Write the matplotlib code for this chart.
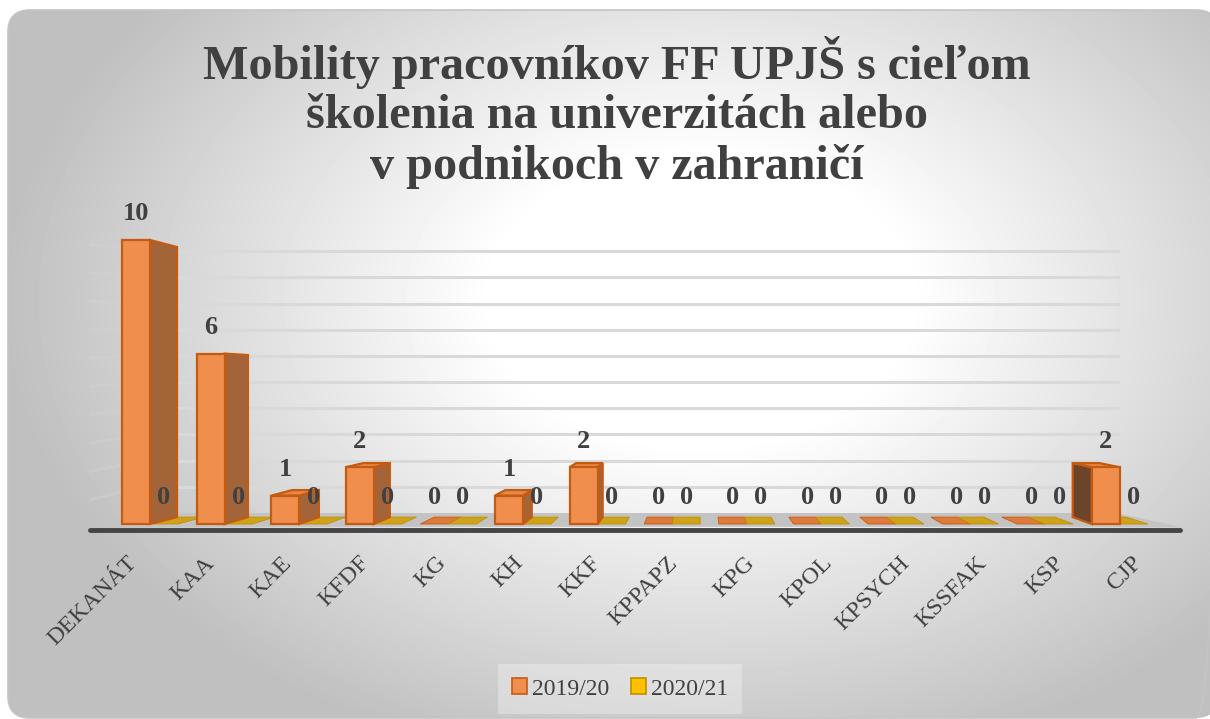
import numpy as np
import matplotlib
matplotlib.use('Agg')
import matplotlib.pyplot as plt
from matplotlib.patches import Polygon, FancyBboxPatch, Patch

plt.rcParams['font.family'] = ['Liberation Serif', 'DejaVu Serif']

# data
categories = ['DEKANÁT', 'KAA', 'KAE', 'KFDF', 'KG', 'KH', 'KKF', 'KPPAPZ',
              'KPG', 'KPOL', 'KPSYCH', 'KSSFAK', 'KSP', 'CJP']
vals_1920 = [10, 6, 1, 2, 0, 1, 2, 0, 0, 0, 0, 0, 0, 2]
vals_2021 = [0, 0, 0, 0, 0, 0, 0, 0, 0, 0, 0, 0, 0, 0]
series_names = ['2019/20', '2020/21']
y_max = 10
title = 'Mobility pracovníkov FF UPJŠ s cieľom\nškolenia na univerzitách alebo\nv podnikoch v zahraničí'

# look
W, H = 1210, 719
TXT = '#404040'
front_col = ['#F08E4E', '#FFC000']
edge_col = ['#C55A11', '#BF9000']
flat_col = ['#DC7B3C', '#CFA21C']
side_left = '#A3643A'    # right face of bars left of centre
side_right = '#6B4429'   # left face of bars right of centre
bar_w = 0.375

# pseudo 3d view: vanishing point in data units, depth scale of bars / back wall
VX, VY = 7.39, 4.96
S_BAR, S_WALL = 0.951, 0.922


def back(x, y, s):
    return VX + (x - VX) * s, VY + (y - VY) * s


fig = plt.figure(figsize=(W / 100, H / 100), dpi=100)

# background panel with radial gradient
bg = fig.add_axes([0, 0, 1, 1], zorder=0)
bg.set_xlim(0, W)
bg.set_ylim(H, 0)
bg.axis('off')
yy, xx = np.mgrid[0:H, 0:W]
r = np.hypot((xx - 700) / 700, (yy - 300) / 480)
shade = 1 - 0.25 * np.clip((r - 0.3) / 0.7, 0, 1)
panel = FancyBboxPatch((8, 10), 1210, 708, boxstyle='round,pad=0,rounding_size=22',
                       fc='none', ec='#c4c4c4', lw=1.2, zorder=2)
bg.add_patch(panel)
img = bg.imshow(shade, cmap='gray', vmin=0, vmax=1, extent=(0, W, H, 0), zorder=1)
img.set_clip_path(panel)

# chart axes, 1 unit x = one category, 1 unit y = one mobility
ax = fig.add_axes([0, 0, 1, 1], zorder=1)
ax.patch.set_alpha(0)
ax.axis('off')
ux, uy, ox, oy = 74.6, 28.4, 150, 524
ax.set_xlim(-ox / ux, (W - ox) / ux)
ax.set_ylim(-(H - oy) / uy, oy / uy)

n = len(categories)
fl, fr = -0.8, n - 1 + 0.81
wl, wr = -0.75, n - 0.55

# floor
bl = back(fl + 0.4, 0, S_WALL)
br = back(fr - 0.4, 0, S_WALL)
ax.add_patch(Polygon([(fl, -0.1), (fr, -0.1), (br[0], br[1]), (bl[0], bl[1])],
                     closed=True, fc='#c3c3c3', ec='none', zorder=1))
ax.plot([fl, fr], [-0.2, -0.2], color='#454545', lw=3.5, solid_capstyle='round', zorder=2)

# gridlines on back wall and faint side wall
for v in range(1, y_max + 1):
    x0, y0 = back(wl, v, S_WALL)
    x1, y1 = back(wr, v, S_WALL)
    ax.plot([x0, x1], [y0, y1], color='#d9d9d9', lw=2.2, zorder=1)
    ax.plot([fl, x0], [v - 0.15, y0], color='#d2d2d2', lw=2.2, alpha=0.45, zorder=1)

series = [vals_1920, vals_2021]

# zero height boxes (flat tops on the floor)
for k, vals in enumerate(series):
    for i, v in enumerate(vals):
        if v != 0:
            continue
        xl = i - bar_w + k * bar_w
        xr = xl + bar_w
        b0 = back(xl, 0, S_BAR)
        b1 = back(xr, 0, S_BAR)
        ax.add_patch(Polygon([(xl, 0), (xr, 0), b1, b0], closed=True,
                             fc=flat_col[k], ec=edge_col[k], lw=0.6, zorder=3))

# bars with side and top faces
for k, vals in enumerate(series):
    for i, v in enumerate(vals):
        if v == 0:
            continue
        xl = i - bar_w + k * bar_w
        xr = xl + bar_w
        if (xl + xr) / 2 < VX:
            xe, sc = xr, side_left
        else:
            xe, sc = xl, side_right
        ax.add_patch(Polygon([(xe, 0), (xe, v), back(xe, v, S_BAR), back(xe, 0, S_BAR)],
                             closed=True, fc=sc, ec=edge_col[k], lw=1.6, zorder=4))
        if v < VY:
            ax.add_patch(Polygon([(xl, v), (xr, v), back(xr, v, S_BAR), back(xl, v, S_BAR)],
                                 closed=True, fc='#E7874A', ec=edge_col[k], lw=1.6, zorder=4))
    xs = [i - bar_w + k * bar_w for i, v in enumerate(vals) if v != 0]
    hs = [v for v in vals if v != 0]
    ax.bar(xs, hs, width=bar_w, align='edge', color=front_col[k],
           edgecolor=edge_col[k], lw=1.6, zorder=5)

# value labels
for k, vals in enumerate(series):
    for i, v in enumerate(vals):
        ax.annotate(str(v), (i - bar_w + k * bar_w + bar_w / 2, v), xytext=(0, 26),
                    textcoords='offset pixels', ha='center', va='center',
                    fontsize=19, fontweight='bold', color=TXT, zorder=6)

# category labels
for i, c in enumerate(categories):
    ax.text(-0.12 + 1.036 * i, -1.0, c, rotation=45, ha='right', va='top',
            fontsize=17.3, color=TXT)

fig.text(0.51, 0.95, title, ha='center', va='top', fontsize=34.7,
         fontweight='bold', color=TXT, linespacing=1.16)

handles = [Patch(fc=front_col[0], ec=edge_col[0], lw=1.2),
           Patch(fc=front_col[1], ec=edge_col[1], lw=1.2)]
leg = fig.legend(handles, series_names, loc='center', bbox_to_anchor=(620 / W, 1 - 689 / H),
                 ncol=2, fontsize=17, handlelength=0.65, handleheight=0.65,
                 handletextpad=0.2, columnspacing=0.9, frameon=True, fancybox=False,
                 labelcolor=TXT, borderpad=0.6)
leg.get_frame().set_facecolor('#f8f8f8')
leg.get_frame().set_edgecolor('none')
leg.get_frame().set_alpha(0.35)

fig.savefig('out.png', dpi=100)
